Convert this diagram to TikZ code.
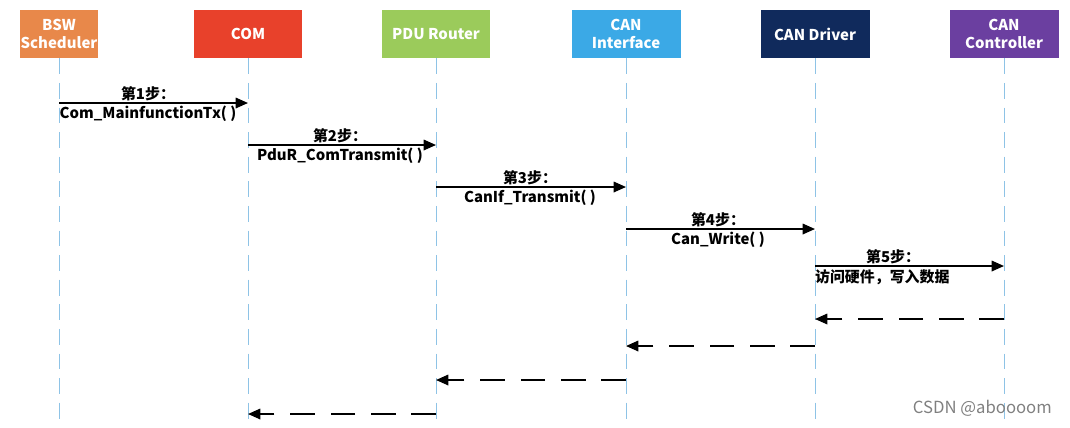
\documentclass[tikz,border=0pt]{standalone}
\usepackage{fontspec}
\newfontfamily\cjk{Noto Sans CJK SC}
\usetikzlibrary{arrows.meta}
\definecolor{cOr}{HTML}{E8884A}
\definecolor{cRe}{HTML}{E8412B}
\definecolor{cGr}{HTML}{9BCB5B}
\definecolor{cBl}{HTML}{3BA9E6}
\definecolor{cNv}{HTML}{102A5C}
\definecolor{cPu}{HTML}{6B3FA0}
\definecolor{cLine}{HTML}{8EC3E6}
\begin{document}
\begin{tikzpicture}[x=0.02cm,y=-0.02cm,
  hdr/.style={minimum width=2.18cm,minimum height=0.96cm,inner sep=0pt,text=white,font=\cjk\bfseries\fontsize{8.5}{10}\selectfont,align=center},
  life/.style={cLine,dashed,dash pattern=on 9pt off 5pt,line width=0.5pt},
  msg/.style={-{Triangle[length=7pt,width=6pt]},line width=0.9pt},
  ret/.style={-{Triangle[length=7pt,width=6pt]},line width=0.9pt,dash pattern=on 14pt off 9pt},
  lbl/.style={font=\cjk\bfseries\fontsize{8.5}{10}\selectfont,inner sep=1pt}]
\useasboundingbox (0,0) rectangle (1070,427);
\node[hdr,fill=cOr,minimum width=1.56cm] (bsw) at (59,34) {BSW\\Scheduler};
\node[hdr,fill=cRe] (com) at (248,34) {COM};
\node[hdr,fill=cGr] (pdu) at (436,34) {PDU Router};
\node[hdr,fill=cBl] (cif) at (626,34) {CAN\\Interface};
\node[hdr,fill=cNv] (drv) at (815,34) {CAN Driver};
\node[hdr,fill=cPu] (ctl) at (1004,34) {CAN\\Controller};
\foreach \n/\x in {bsw/59,com/248,pdu/436,cif/626,drv/815,ctl/1004}{
  \coordinate (\n e) at (\x,420);
  \draw[life] (\n.south) -- (\n e);
  \foreach \y in {103,145,187,229,266,319,346,380,414}{\coordinate (\n\y) at (\x,\y);}
}
\draw[msg] (bsw103) -- (com103);
\node[lbl,above] (l1a) at (148,103) {第1步：};
\node[lbl,below] (l1b) at (148,104) {Com\_MainfunctionTx( )};
\draw[msg] (com145) -- (pdu145);
\node[lbl,above] (l2a) at (340,145) {第2步：};
\node[lbl,below] (l2b) at (340,146) {PduR\_ComTransmit( )};
\draw[msg] (pdu187) -- (cif187);
\node[lbl,above] (l3a) at (530,187) {第3步：};
\node[lbl,below] (l3b) at (530,188) {CanIf\_Transmit( )};
\draw[msg] (cif229) -- (drv229);
\node[lbl,above] (l4a) at (718,229) {第4步：};
\node[lbl,below] (l4b) at (718,230) {Can\_Write( )};
\draw[msg] (drv266) -- (ctl266);
\node[lbl,above] (l5a) at (893,266) {第5步：};
\node[lbl,below right] (l5b) at (813,267) {访问硬件，写入数据};
\draw[ret] (ctl319) -- (drv319);
\draw[ret] (drv346) -- (cif346);
\draw[ret] (cif380) -- (pdu380);
\draw[ret] (pdu414) -- (com414);
\node[font=\cjk\fontsize{9.5}{12}\selectfont,text=gray,anchor=east] (wm) at (1058,408) {CSDN @aboooom};
\end{tikzpicture}
\end{document}
